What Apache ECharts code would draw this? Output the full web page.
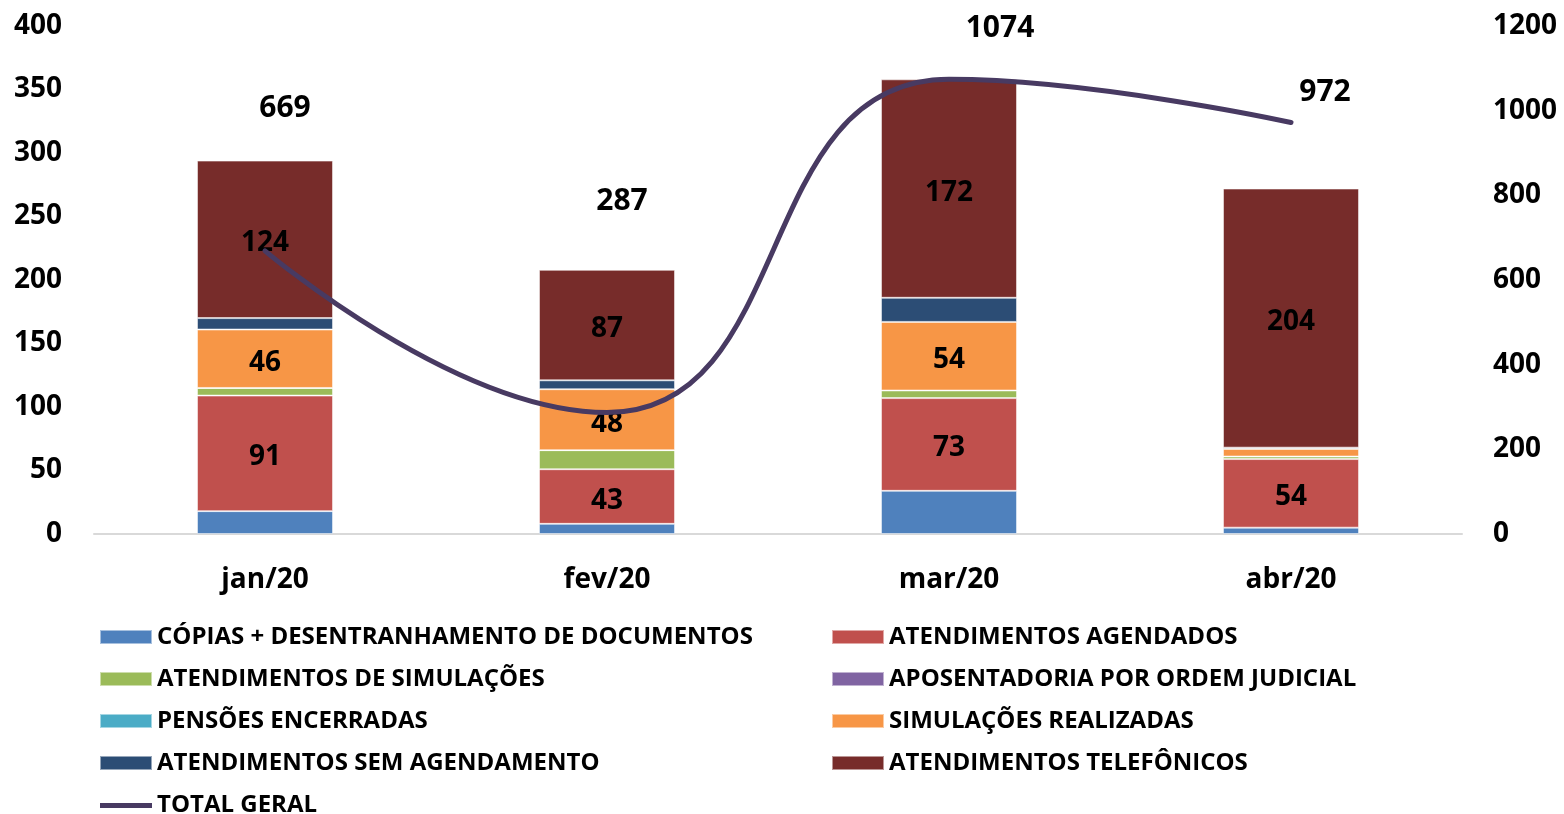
<!DOCTYPE html>
<html lang="pt">
<head>
  <meta charset="UTF-8">
  <title>Atendimentos 2020</title>
  <script src="https://cdn.jsdelivr.net/npm/echarts@6/dist/echarts.min.js"></script>
  <style>
    html, body { margin: 0; padding: 0; background: #fff; }
    #chart { width: 1564px; height: 814px; }
  </style>
</head>
<body>
  <div id="chart"></div>
  <script>
    // dados
    var meses = ['jan/20', 'fev/20', 'mar/20', 'abr/20'];
    var copias = [18, 8, 34, 5];
    var agendados = [91, 43, 73, 54];
    var simulacoesAtend = [6, 15, 6, 2];
    var aposentadoria = [0, 0, 0, 0];
    var pensoes = [0, 0, 0, 0];
    var simulacoesRealizadas = [46, 48, 54, 6];
    var semAgendamento = [9, 7, 19, 1];
    var telefonicos = [124, 87, 172, 204];
    var totalGeral = [669, 287, 1074, 972];

    var fonte = '"Open Sans", "Noto Sans", sans-serif';
    var myChart = echarts.init(document.getElementById('chart'));

    // rótulo só nas séries com números visíveis
    function rotulo(show) {
      return {
        show: show,
        position: 'inside',
        offset: [0, 4],
        color: '#000',
        fontFamily: fonte,
        fontWeight: 'bold',
        fontSize: 28,
        formatter: function (p) { return p.value >= 20 ? p.value : ''; }
      };
    }

    function barra(nome, dados, cor, comRotulo) {
      return {
        name: nome,
        type: 'bar',
        stack: 'total',
        barWidth: 136,
        data: dados,
        itemStyle: { color: cor, borderColor: 'rgba(255,255,255,0.5)', borderWidth: 1 },
        label: rotulo(comRotulo)
      };
    }

    // deslocamento dos rótulos do total (ajustados à mão como no original)
    var deslocTotal = [[20, -142], [15, -211], [51, -51], [34, -30]];

    var estiloLegenda = { fontSize: 24, fontWeight: 'bold', color: '#000', lineHeight: 26, fontFamily: fonte };
    var corLinha = '#483A62';

    myChart.setOption({
      animation: false,
      textStyle: { fontFamily: fonte },
      grid: { left: 94, right: 102, top: 26, bottom: 280 },
      legend: [{
        orient: 'vertical',
        left: 94,
        top: 619,
        height: 260,
        icon: 'rect',
        itemWidth: 52,
        itemHeight: 14,
        itemGap: 16,
        textStyle: estiloLegenda,
        data: [
          'CÓPIAS + DESENTRANHAMENTO DE DOCUMENTOS',
          'ATENDIMENTOS DE SIMULAÇÕES',
          'PENSÕES ENCERRADAS',
          'ATENDIMENTOS SEM AGENDAMENTO',
          { name: 'TOTAL GERAL', icon: 'path://M0 0 L0.01 0 L0 0.01 Z M0 5 L52 5 L52 10 L0 10 Z M51.99 14 L52 14 L52 13.99 Z' }
        ]
      }, {
        orient: 'vertical',
        left: 826,
        top: 619,
        height: 260,
        icon: 'rect',
        itemWidth: 52,
        itemHeight: 14,
        itemGap: 16,
        textStyle: estiloLegenda,
        data: ['ATENDIMENTOS AGENDADOS', 'APOSENTADORIA POR ORDEM JUDICIAL', 'SIMULAÇÕES REALIZADAS', 'ATENDIMENTOS TELEFÔNICOS']
      }],
      xAxis: {
        type: 'category',
        data: meses,
        axisLine: { lineStyle: { color: '#d9d9d9', width: 2 } },
        axisTick: { show: false },
        axisLabel: { color: '#000', fontSize: 28, fontWeight: 'bold', margin: 32 }
      },
      yAxis: [{
        type: 'value',
        min: 0, max: 400, interval: 50,
        splitLine: { show: false },
        axisLabel: { color: '#000', fontSize: 28, fontWeight: 'bold', margin: 32 }
      }, {
        type: 'value',
        min: 0, max: 1200, interval: 200,
        splitLine: { show: false },
        axisLabel: {
          color: '#000', fontSize: 28, fontWeight: 'bold', margin: 31,
          formatter: function (v) { return String(v); }
        }
      }],
      series: [
        barra('CÓPIAS + DESENTRANHAMENTO DE DOCUMENTOS', copias, '#4F81BD', false),
        barra('ATENDIMENTOS AGENDADOS', agendados, '#C0504D', true),
        barra('ATENDIMENTOS DE SIMULAÇÕES', simulacoesAtend, '#9BBB59', false),
        barra('APOSENTADORIA POR ORDEM JUDICIAL', aposentadoria, '#8064A2', false),
        barra('PENSÕES ENCERRADAS', pensoes, '#4BACC6', false),
        barra('SIMULAÇÕES REALIZADAS', simulacoesRealizadas, '#F79646', true),
        barra('ATENDIMENTOS SEM AGENDAMENTO', semAgendamento, '#2C4D75', false),
        barra('ATENDIMENTOS TELEFÔNICOS', telefonicos, '#772C2A', true),
        {
          name: 'TOTAL GERAL',
          type: 'line',
          yAxisIndex: 1,
          smooth: 0.5,
          symbol: 'none',
          lineStyle: { color: corLinha, width: 5, cap: 'round' },
          itemStyle: { color: corLinha },
          data: totalGeral
        },
        {
          // só os rótulos do total geral
          name: 'rotulos total',
          type: 'scatter',
          yAxisIndex: 1,
          symbolSize: 0,
          silent: true,
          itemStyle: { color: 'transparent', opacity: 1 },
          data: totalGeral.map(function (v, i) {
            return { value: v, label: { offset: deslocTotal[i] } };
          }),
          label: {
            show: true,
            position: 'inside',
            color: '#000',
            fontFamily: fonte,
            fontWeight: 'bold',
            fontSize: 30
          }
        }
      ]
    });
  </script>
</body>
</html>
